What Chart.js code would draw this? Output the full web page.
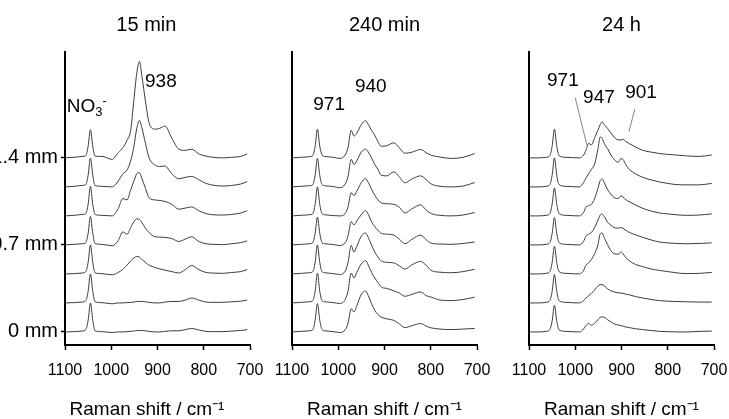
<!DOCTYPE html>
<html><head><meta charset="utf-8">
<script src="https://cdn.jsdelivr.net/npm/chart.js@4"></script>
<style>
html,body{margin:0;padding:0;background:#fff;overflow:hidden;width:729px;height:419px;position:relative}
canvas{position:absolute;top:0}
</style></head><body>
<canvas id="c1" width="292" height="419" style="left:0px"></canvas>
<canvas id="c2" width="245" height="419" style="left:262px"></canvas>
<canvas id="c3" width="245" height="419" style="left:499px"></canvas>
<script>
// ---------- data ----------
const panelTitles = ['15 min', '240 min', '24 h'];
const xTickValues = [1100, 1000, 900, 800, 700];
const yTickValues = [0, 3, 6];
const yTickLabels = ['0 mm', '0.7 mm', '1.4 mm'];
const xAxisTitle = 'Raman shift / cm\u207B\u00B9';

// 15 min
const wn15 = [1100,1080,1063,1055,1050,1045,1040,1035,1020,998,985,975,966,958,951,945,939,934,926,918,905,895,884,869,854,840,826,811,795,780,760,740,720,706];
const i15_0 = [0,0.01,0.03,0.08,0.4,1.0,0.4,0.04,0.01,-0.02,0,0,0.01,0.02,0.03,0.05,0.05,0.05,0.04,0.02,0,0,0.02,0.04,0.04,0.08,0.12,0.07,0.02,0.01,0.01,0.03,0.05,0.08];
const i15_1 = [0,0.01,0.03,0.08,0.4,1.0,0.4,0.04,0.01,-0.03,0,0,0.01,0.02,0.03,0.05,0.05,0.05,0.04,0.02,0,0,0.03,0.05,0.05,0.1,0.17,0.1,0.03,0.02,0.02,0.04,0.06,0.1];
const i15_2 = [0,0.01,0.03,0.08,0.4,1.0,0.4,0.04,0.01,-0.03,0.05,0.16,0.3,0.45,0.55,0.6,0.58,0.5,0.4,0.3,0.22,0.17,0.13,0.08,0.03,0.15,0.29,0.15,0.05,0.03,0.02,0.05,0.08,0.15];
const i15_3 = [0,0.02,0.04,0.08,0.4,0.98,0.4,0.05,0.02,-0.03,0.15,0.45,0.37,0.6,0.8,0.9,0.88,0.78,0.57,0.42,0.28,0.27,0.26,0.22,0.12,0.2,0.28,0.12,0.04,0.02,0.01,0.04,0.08,0.14];
const i15_4 = [0,0.02,0.05,0.08,0.4,1.02,0.4,0.05,0.02,0,0.25,0.6,0.55,0.9,1.2,1.45,1.49,1.3,0.95,0.62,0.55,0.53,0.5,0.4,0.23,0.27,0.31,0.18,0.08,0.04,0.03,0.05,0.1,0.18];
const i15_5 = [0,0.02,0.05,0.08,0.4,0.99,0.4,0.05,0.02,0,0.2,0.45,0.58,0.9,1.4,2.0,2.29,2.05,1.5,1.0,0.75,0.7,0.72,0.45,0.28,0.33,0.36,0.25,0.12,0.06,0.03,0.05,0.1,0.18];
const i15_6 = [0,0.02,0.05,0.08,0.4,0.97,0.4,0.06,0.05,-0.05,0.18,0.35,0.6,0.95,2.0,2.9,3.32,2.85,1.95,1.2,0.99,1.02,1.1,0.68,0.3,0.26,0.3,0.14,0.06,0.02,0,0.02,0.05,0.14];

// 240 min
const wn240 = [1100,1080,1063,1055,1050,1045,1040,1035,1029,1010,997,985,979,972,966,960,950,941,935,928,921,914,907,895,880,868,856,840,822,810,799,780,756,730,705];
const i240_0 = [0,0.02,0.04,0.08,0.4,0.98,0.4,0.08,0.04,0.01,-0.02,0.08,0.3,0.8,0.69,0.9,1.3,1.41,1.25,0.98,0.74,0.6,0.51,0.45,0.4,0.28,0.15,0.22,0.29,0.2,0.14,0.1,0.08,0.1,0.12];
const i240_1 = [0,0.02,0.04,0.08,0.4,1.03,0.4,0.08,0.04,0.01,-0.02,0.12,0.4,1.03,0.86,1.05,1.35,1.46,1.3,1.05,0.86,0.7,0.55,0.5,0.42,0.34,0.23,0.3,0.38,0.25,0.2,0.1,0.08,0.12,0.2];
const i240_2 = [0,0.02,0.04,0.08,0.4,1.0,0.4,0.08,0.04,0.01,-0.02,0.1,0.38,0.98,0.75,0.95,1.3,1.41,1.25,1.0,0.75,0.58,0.45,0.4,0.38,0.28,0.17,0.32,0.43,0.3,0.12,0.06,0.04,0.08,0.16];
const i240_3 = [0,0.02,0.04,0.08,0.4,0.96,0.4,0.08,0.04,0.01,-0.02,0.08,0.3,0.8,0.69,0.82,1.05,1.18,1.05,0.8,0.63,0.5,0.4,0.37,0.34,0.2,0.04,0.2,0.34,0.18,0.06,0.03,0.02,0.05,0.1];
const i240_4 = [0,0.02,0.04,0.08,0.4,1.0,0.4,0.08,0.04,0.01,0,0.08,0.3,0.8,0.7,0.85,1.15,1.29,1.15,0.92,0.71,0.55,0.45,0.42,0.4,0.3,0.1,0.25,0.38,0.2,0.08,0.02,0,0.03,0.12];
const i240_5 = [0,0.02,0.04,0.08,0.4,0.98,0.4,0.08,0.04,0.01,-0.03,0.1,0.35,0.95,0.77,0.9,1.2,1.3,1.2,1.0,0.77,0.6,0.4,0.38,0.52,0.35,0.14,0.28,0.38,0.25,0.1,0.02,0,0.03,0.15];
const i240_6 = [0,0.02,0.04,0.08,0.4,0.99,0.4,0.1,0.05,0.02,-0.02,0.1,0.35,0.95,0.75,0.85,1.15,1.28,1.15,0.95,0.78,0.55,0.4,0.42,0.52,0.35,0.16,0.2,0.29,0.18,0.09,0.03,-0.02,0.02,0.15];

// 24 h
const wn24h = [1100,1080,1063,1055,1050,1045,1040,1035,1020,991,982,977,971,965,958,951,946,942,936,930,923,916,907,901,897,890,883,870,854,836,818,800,782,760,732,705];
const i24h_0 = [0,0,0.02,0.08,0.38,0.92,0.38,0.07,0.02,0,0.1,0.22,0.29,0.23,0.3,0.42,0.5,0.52,0.5,0.42,0.35,0.28,0.24,0.22,0.2,0.17,0.15,0.11,0.08,0.05,0.02,0.01,0,0,0.02,0.03];
const i24h_1 = [0,0,0.02,0.08,0.4,0.98,0.4,0.08,0.02,0,0.08,0.17,0.25,0.33,0.45,0.58,0.63,0.63,0.58,0.48,0.42,0.38,0.35,0.34,0.33,0.3,0.28,0.22,0.17,0.12,0.08,0.06,0.05,0.04,0.03,0.03];
const i24h_2 = [0,0,0.02,0.08,0.39,0.95,0.39,0.08,0.02,0,0.12,0.3,0.38,0.5,0.7,1.0,1.38,1.41,1.2,1.01,0.8,0.7,0.68,0.76,0.7,0.55,0.45,0.33,0.25,0.17,0.12,0.08,0.04,0.01,0.02,0.05];
const i24h_3 = [0,0,0.02,0.08,0.39,0.94,0.39,0.08,0.02,0,0.12,0.3,0.37,0.43,0.6,0.85,1.03,1.06,0.95,0.78,0.68,0.6,0.58,0.6,0.57,0.5,0.43,0.35,0.26,0.17,0.1,0.07,0.05,0.04,0.05,0.07];
const i24h_4 = [0,0,0.02,0.08,0.4,0.96,0.4,0.08,0.02,0,0.12,0.3,0.35,0.4,0.6,0.95,1.22,1.27,1.1,0.9,0.75,0.63,0.6,0.69,0.65,0.55,0.49,0.38,0.26,0.17,0.1,0.07,0.04,0.02,0.03,0.07];
const i24h_5 = [0,0,0.02,0.08,0.4,1.0,0.4,0.08,0.02,0,0.15,0.3,0.46,0.6,0.8,1.3,1.72,1.68,1.45,1.32,1.1,0.95,0.85,0.98,0.95,0.75,0.6,0.45,0.33,0.24,0.17,0.12,0.08,0.07,0.07,0.12];
const i24h_6 = [0,0,0.02,0.08,0.4,0.99,0.4,0.08,0.02,0,0.1,0.26,0.5,0.45,0.7,0.95,1.15,1.24,1.12,1.01,0.86,0.72,0.62,0.62,0.64,0.56,0.49,0.38,0.26,0.2,0.15,0.12,0.1,0.07,0.05,0.1];

const traceSpacing = 1;

// annotations (data coordinates: wavenumber, stacked intensity)
const notes15 = [{text:'NO', sub:'3', sup:'-', x:1096, y:7.77}, {text:'938', x:927, y:8.63}];
const notes240 = [{text:'971', x:1054, y:7.83}, {text:'940', x:964, y:8.45}];
const notes24h = [{text:'971', x:1061, y:8.66}, {text:'947', x:983, y:8.07}, {text:'901', x:892, y:8.24}];
const leaders24h = [{x1:1000, y1:8.07, x2:975, y2:6.45}, {x1:871, y1:7.69, x2:884, y2:6.9}];

// ---------- drawing ----------
const FONT = "'Liberation Sans', Arial, Helvetica, sans-serif";
Chart.defaults.font.family = FONT;
Chart.defaults.color = '#000';
const NB = '\u00A0\u00A0\u00A0\u00A0';

const notePlugin = {
  id: 'peakNotes',
  afterDatasetsDraw(chart, args, opts) {
    const {ctx} = chart; const xs = chart.scales.x, ys = chart.scales.y;
    ctx.save();
    (opts.leaders || []).forEach(l => {
      ctx.beginPath();
      ctx.moveTo(xs.getPixelForValue(l.x1), ys.getPixelForValue(l.y1));
      ctx.lineTo(xs.getPixelForValue(l.x2), ys.getPixelForValue(l.y2));
      ctx.strokeStyle = '#666'; ctx.lineWidth = 0.8; ctx.stroke();
    });
    (opts.notes || []).forEach(n => {
      let px = xs.getPixelForValue(n.x); const py = ys.getPixelForValue(n.y);
      ctx.fillStyle = '#000'; ctx.textBaseline = 'middle'; ctx.textAlign = 'left';
      ctx.font = '19px ' + FONT;
      ctx.fillText(n.text, px, py);
      px += ctx.measureText(n.text).width;
      ctx.font = '13px ' + FONT;
      if (n.sub) { ctx.fillText(n.sub, px, py + 6); px += ctx.measureText(n.sub).width; }
      if (n.sup) { ctx.fillText(n.sup, px, py - 5); }
    });
    ctx.restore();
  }
};

const panels = [
  {id:'c1', title:panelTitles[0] + NB, wn:wn15, traces:[i15_0,i15_1,i15_2,i15_3,i15_4,i15_5,i15_6], notes:notes15, leaders:[], yLabels:true, yWidth:65, padRight:42, xTitle: xAxisTitle + NB},
  {id:'c2', title:panelTitles[1], wn:wn240, traces:[i240_0,i240_1,i240_2,i240_3,i240_4,i240_5,i240_6], notes:notes240, leaders:[], yLabels:false, yWidth:30, padRight:30, xTitle: xAxisTitle},
  {id:'c3', title:panelTitles[2], wn:wn24h, traces:[i24h_0,i24h_1,i24h_2,i24h_3,i24h_4,i24h_5,i24h_6], notes:notes24h, leaders:leaders24h, yLabels:false, yWidth:30, padRight:30, xTitle: xAxisTitle}
];

panels.forEach(p => {
  new Chart(document.getElementById(p.id), {
    type: 'line',
    data: {
      datasets: p.traces.map((vals, k) => ({
        data: p.wn.map((w, i) => ({x: w, y: vals[i] + k * traceSpacing})),
        borderColor: '#3c3c3c', borderWidth: 1, pointRadius: 0, fill: false,
        cubicInterpolationMode: 'monotone'
      }))
    },
    options: {
      responsive: false, animation: false, events: [],
      layout: {padding: {left: 0, right: p.padRight, top: 0, bottom: 0}},
      plugins: {
        legend: {display: false}, tooltip: {enabled: false},
        title: {display: true, text: p.title, fullSize: false, color: '#000',
                font: {size: 20, weight: 'normal'}, padding: {top: 13, bottom: 15}},
        peakNotes: {notes: p.notes, leaders: p.leaders}
      },
      scales: {
        x: {
          type: 'linear', reverse: true, min: 700, max: 1100,
          afterBuildTicks: s => { s.ticks = xTickValues.map(v => ({value: v})); },
          afterFit: s => { s.height = 74; },
          ticks: {font: {size: 16}, color: '#000', padding: 11, maxRotation: 0, autoSkip: false,
                  callback: v => String(v)},
          grid: {drawOnChartArea: false, drawTicks: true, tickLength: 5, color: '#000', tickWidth: 1.5},
          border: {display: true, color: '#000', width: 2},
          title: {display: true, text: p.xTitle, color: '#000', font: {size: 19, lineHeight: 1}, padding: {top: 0, bottom: 0}}
        },
        y: {
          min: -0.45, max: 9.65,
          afterBuildTicks: s => { s.ticks = yTickValues.map(v => ({value: v})); },
          afterFit: s => { s.width = p.yWidth; },
          ticks: {display: p.yLabels, font: {size: 20}, color: '#000', padding: 3,
                  callback: (v) => yTickLabels[yTickValues.indexOf(v)]},
          grid: {display: p.yLabels, drawOnChartArea: false, drawTicks: true, tickLength: 4, color: '#000', tickWidth: 1.5},
          border: {display: true, color: '#000', width: 2}
        }
      }
    },
    plugins: [notePlugin]
  });
});
</script>
</body></html>
